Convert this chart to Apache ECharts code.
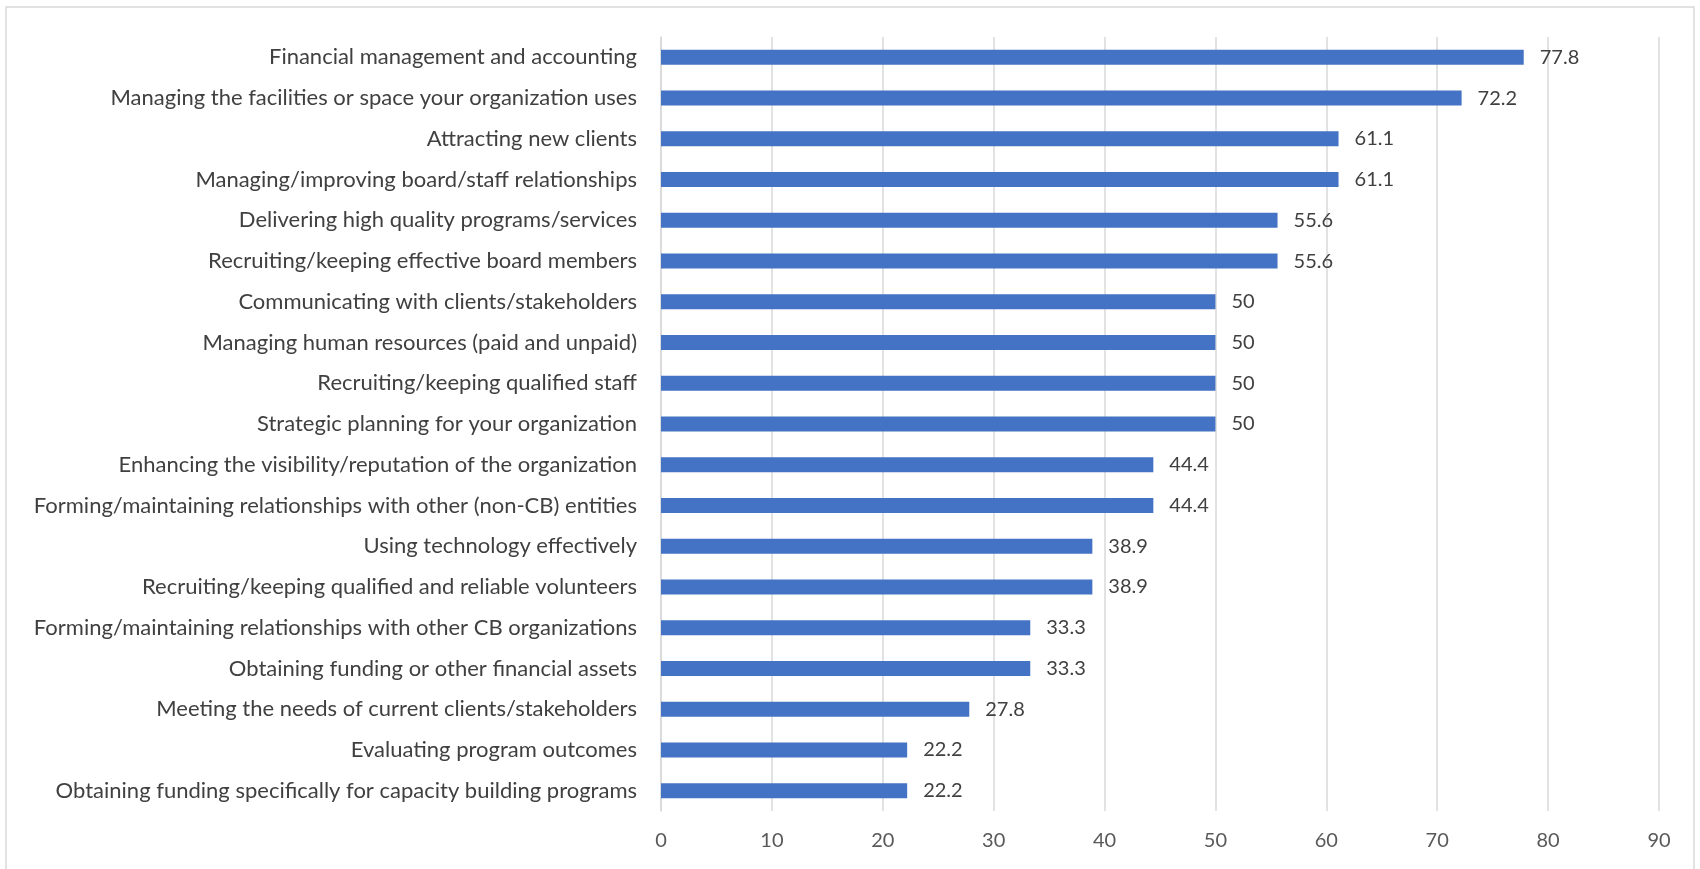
<!DOCTYPE html>
<html>
<head>
<meta charset="utf-8">
<script src="https://cdn.jsdelivr.net/npm/echarts@6/dist/echarts.min.js"></script>
<style>
html,body{margin:0;padding:0;background:#fff;}
#chart{width:1700px;height:869px;}
</style>
</head>
<body>
<div id="chart"></div>
<script>
const categories = [
  "Financial management and accounting",
  "Managing the facilities or space your organization uses",
  "Attracting new clients",
  "Managing/improving board/staff relationships",
  "Delivering high quality programs/services",
  "Recruiting/keeping effective board members",
  "Communicating with clients/stakeholders",
  "Managing human resources (paid and unpaid)",
  "Recruiting/keeping qualified staff",
  "Strategic planning for your organization",
  "Enhancing the visibility/reputation of the organization",
  "Forming/maintaining relationships with other (non-CB) entities",
  "Using technology effectively",
  "Recruiting/keeping qualified and reliable volunteers",
  "Forming/maintaining relationships with other CB organizations",
  "Obtaining funding or other financial assets",
  "Meeting the needs of current clients/stakeholders",
  "Evaluating program outcomes",
  "Obtaining funding specifically for capacity building programs"
];
const values = [77.8, 72.2, 61.1, 61.1, 55.6, 55.6, 50, 50, 50, 50, 44.4, 44.4, 38.9, 38.9, 33.3, 33.3, 27.8, 22.2, 22.2];
const xTicks = [0, 10, 20, 30, 40, 50, 60, 70, 80, 90];

const FONT = 'Lato';
const chart = echarts.init(document.getElementById('chart'), null, {renderer: 'canvas'});
chart.setOption({
  animation: false,
  backgroundColor: '#fff',
  graphic: [{
    type: 'rect',
    shape: {x: 6, y: 7, width: 1688, height: 900},
    style: {fill: 'none', stroke: '#d9d9d9', lineWidth: 1.5},
    silent: true
  }],
  grid: {left: 661, right: 41, top: 37, bottom: 58, containLabel: false},
  xAxis: {
    type: 'value',
    min: xTicks[0],
    max: xTicks[xTicks.length - 1],
    interval: 10,
    axisLine: {show: false},
    axisTick: {show: false},
    axisLabel: {color: '#595959', fontFamily: FONT, fontSize: 20, margin: 20},
    splitLine: {show: true, lineStyle: {color: '#d9d9d9', width: 1.5}}
  },
  yAxis: {
    type: 'category',
    inverse: true,
    data: categories,
    axisLine: {show: true, lineStyle: {color: '#d9d9d9', width: 1.5}},
    axisTick: {show: false},
    axisLabel: {color: '#404040', fontFamily: FONT, fontSize: 22, margin: 24}
  },
  series: [{
    type: 'bar',
    data: values,
    barWidth: 15,
    itemStyle: {color: '#4472c4'},
    label: {
      show: true,
      position: 'right',
      distance: 16,
      color: '#404040',
      fontFamily: FONT,
      fontSize: 20
    }
  }]
});
</script>
</body>
</html>
